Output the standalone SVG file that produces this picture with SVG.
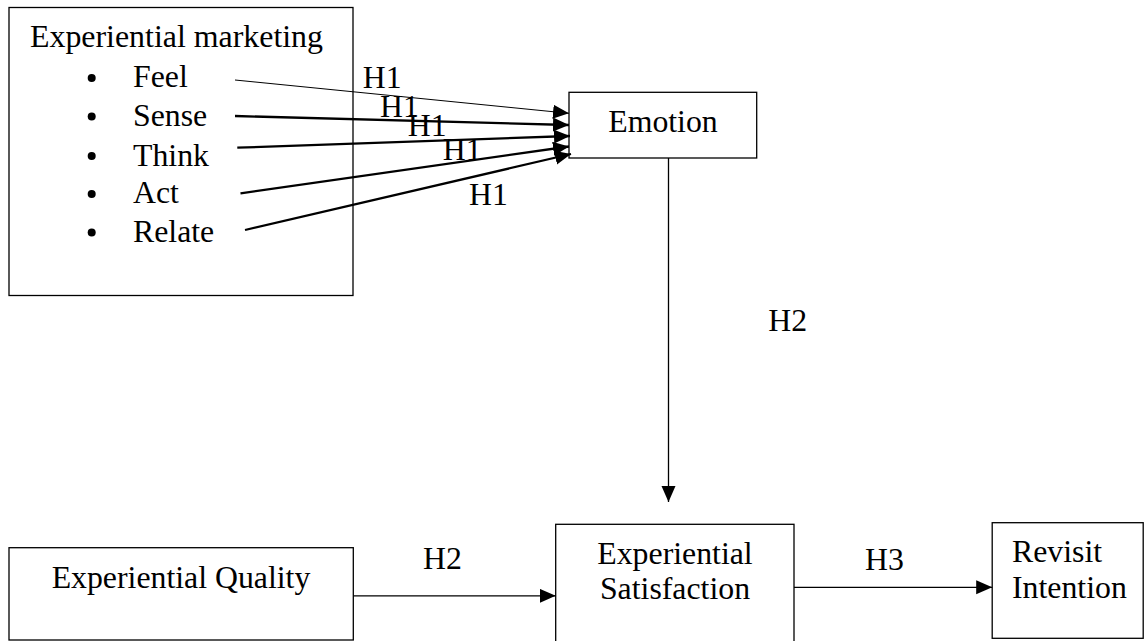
<svg xmlns="http://www.w3.org/2000/svg" width="1147" height="641" viewBox="0 0 1147 641">
<style>
  .box { fill: #fff; stroke: #000; stroke-width: 1.3; }
  .t { font-family: 'Liberation Serif', 'Times New Roman', Times, Tinos, 'DejaVu Serif', serif; font-size: 31.8px; fill: #000; }
  .c { text-anchor: middle; }
  .ln { stroke: #000; fill: none; stroke-width: 1.3; }
  .thick { stroke-width: 2.3; }
  .thin { stroke-width: 1; }
</style>
<defs>
  <marker id="ah" markerUnits="userSpaceOnUse" markerWidth="17" markerHeight="15" refX="16" refY="7" orient="auto">
    <path d="M0,0 L16,7 L0,14 z" fill="#000"/>
  </marker>
</defs>
<rect width="1147" height="641" fill="#fff"/>

<g id="node-experiential-marketing">
  <rect class="box" x="9" y="7.5" width="344" height="288"/>
  <text class="t" x="30" y="47" textLength="293" lengthAdjust="spacingAndGlyphs">Experiential marketing</text>
  <circle cx="91.7" cy="78" r="4"/>
  <text class="t" x="133" y="87.3">Feel</text>
  <circle cx="91.7" cy="116.5" r="4"/>
  <text class="t" x="133" y="126">Sense</text>
  <circle cx="91.7" cy="156" r="4"/>
  <text class="t" x="133" y="165.5">Think</text>
  <circle cx="91.7" cy="194" r="4"/>
  <text class="t" x="133" y="203.3">Act</text>
  <circle cx="91.7" cy="232.5" r="4"/>
  <text class="t" x="133" y="241.7">Relate</text>
</g>

<g id="node-emotion">
  <rect class="box" x="569" y="92.3" width="187.7" height="65.7"/>
  <text class="t c" x="663" y="132.3">Emotion</text>
</g>

<g id="node-experiential-quality">
  <rect class="box" x="9" y="547.7" width="344.3" height="92.3"/>
  <text class="t c" x="181" y="588.3">Experiential Quality</text>
</g>

<g id="node-experiential-satisfaction">
  <rect class="box" x="555.7" y="524.3" width="238.3" height="125"/>
  <text class="t c" x="675" y="564.3">Experiential</text>
  <text class="t c" x="675" y="599.3">Satisfaction</text>
</g>

<g id="node-revisit-intention">
  <rect class="box" x="992.2" y="522.7" width="151" height="115.6"/>
  <text class="t" x="1012" y="561.7">Revisit</text>
  <text class="t" x="1012" y="598.3">Intention</text>
</g>

<g id="connectors">
  <line class="ln thin" x1="235" y1="80" x2="569" y2="113.3" marker-end="url(#ah)"/>
  <line class="ln thick" x1="235" y1="116" x2="569" y2="125" marker-end="url(#ah)"/>
  <line class="ln thick" x1="237.3" y1="147.7" x2="570" y2="136" marker-end="url(#ah)"/>
  <line class="ln thick" x1="240.5" y1="193.3" x2="569" y2="146.5" marker-end="url(#ah)"/>
  <line class="ln thick" x1="245" y1="230" x2="571" y2="154" marker-end="url(#ah)"/>
  <line class="ln" x1="668.5" y1="158" x2="668.5" y2="502" marker-end="url(#ah)"/>
  <line class="ln" x1="353.3" y1="595.8" x2="555.7" y2="595.8" marker-end="url(#ah)"/>
  <line class="ln" x1="794" y1="587.3" x2="992.2" y2="587.3" marker-end="url(#ah)"/>
  <text class="t" x="362.7" y="88.3">H1</text>
  <text class="t" x="380" y="116.7">H1</text>
  <text class="t" x="407.7" y="136">H1</text>
  <text class="t" x="442.7" y="160">H1</text>
  <text class="t" x="469" y="205">H1</text>
  <text class="t" x="768.3" y="330.7">H2</text>
  <text class="t" x="423" y="569.3">H2</text>
  <text class="t" x="865" y="570">H3</text>
</g>
</svg>
